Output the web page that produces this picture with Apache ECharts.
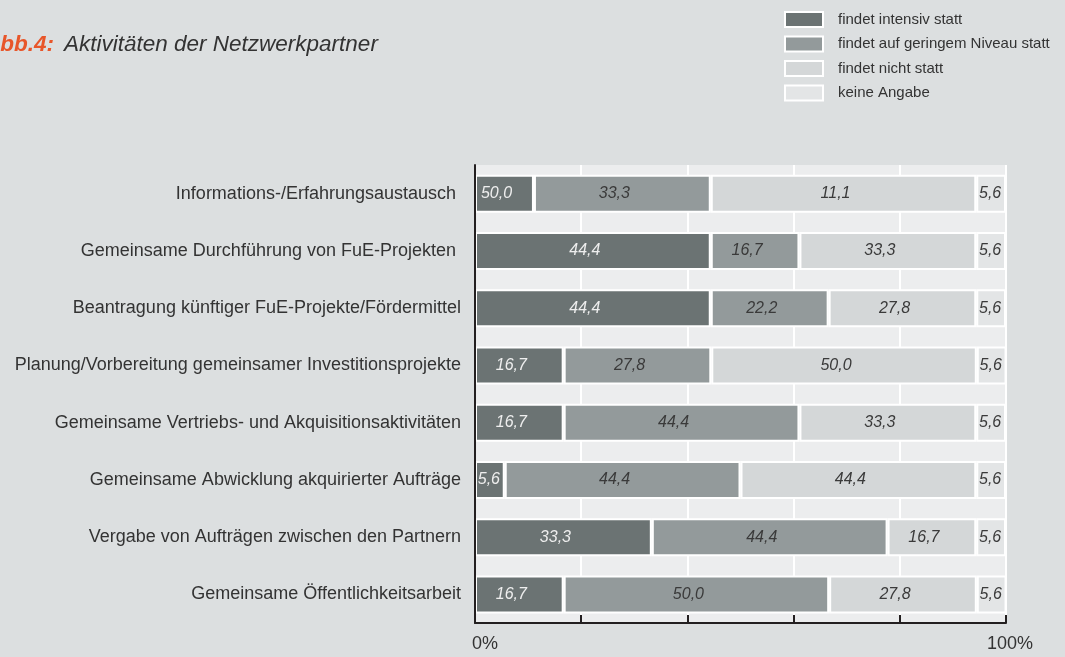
<!DOCTYPE html>
<html>
<head>
<meta charset="utf-8">
<script src="https://cdn.jsdelivr.net/npm/echarts@6/dist/echarts.min.js"></script>
<style>
  html, body { margin: 0; padding: 0; background: #dcdfe0; }
  #chart { width: 1065px; height: 657px; }
</style>
</head>
<body>
<div id="chart"></div>
<script>
// Kategorien (von oben nach unten)
const categories = [
  "Informations-/Erfahrungsaustausch ",
  "Gemeinsame Durchführung von FuE-Projekten ",
  "Beantragung künftiger FuE-Projekte/Fördermittel",
  "Planung/Vorbereitung gemeinsamer Investitionsprojekte",
  "Gemeinsame Vertriebs- und Akquisitionsaktivitäten",
  "Gemeinsame Abwicklung akquirierter Aufträge",
  "Vergabe von Aufträgen zwischen den Partnern",
  "Gemeinsame Öffentlichkeitsarbeit"
];
const seriesNames = [
  "findet intensiv statt",
  "findet auf geringem Niveau statt",
  "findet nicht statt",
  "keine Angabe"
];

// Balkenlängen in % (wie gezeichnet)
const intensiv = [11.1, 44.4, 44.4, 16.7, 16.7, 5.6, 33.3, 16.7];
const gering   = [33.3, 16.7, 22.2, 27.8, 44.4, 44.4, 44.4, 50.0];
const nicht    = [50.0, 33.3, 27.8, 50.0, 33.3, 44.4, 16.7, 27.8];
const keine    = [5.6, 5.6, 5.6, 5.6, 5.6, 5.6, 5.6, 5.6];

// Beschriftungen, wie sie im Original stehen (Zeile 1 vertauscht)
const intensivLabels = ["50,0", "44,4", "44,4", "16,7", "16,7", "5,6", "33,3", "16,7"];
const geringLabels   = ["33,3", "16,7", "22,2", "27,8", "44,4", "44,4", "44,4", "50,0"];
const nichtLabels    = ["11,1", "33,3", "27,8", "50,0", "33,3", "44,4", "16,7", "27,8"];
const keineLabels    = ["5,6", "5,6", "5,6", "5,6", "5,6", "5,6", "5,6", "5,6"];

// x-Achse: nur Anfang und Ende beschriftet
const tickLabels = { 0: "{a|0%}", 100: "{b|100%}" };

const FONT = "Liberation Sans";
const colors = ["#6b7373", "#939a9b", "#d4d7d8", "#e3e5e6"];
const labelColors = ["#eeeeee", "#3a3a3a", "#3a3a3a", "#3a3a3a"];

function makeSeries(name, values, labels, i) {
  return {
    name: name,
    type: "bar",
    stack: "total",
    barWidth: 38,
    // schmale Segmente: Beschriftung mittig, sonst leicht nach links versetzt
    data: values.map(function (v) {
      return { value: v, label: { offset: v < 10 ? [-1, 0] : [-8, 0] } };
    }),
    itemStyle: { color: colors[i], borderColor: "#ffffff", borderWidth: 2 },
    label: {
      show: true,
      position: "inside",
      fontFamily: FONT,
      fontStyle: "italic",
      fontSize: 16,
      color: labelColors[i],
      formatter: function (p) { return labels[p.dataIndex]; }
    },
    emphasis: { disabled: true }
  };
}

var myChart = echarts.init(document.getElementById("chart"));

var option = {
  backgroundColor: "#dcdfe0",
  animation: false,
  title: {
    text: "{o|Abb.4:}  {t|Aktivitäten der Netzwerkpartner}",
    left: -21,
    top: 28,
    textStyle: {
      rich: {
        o: { fontFamily: FONT, fontStyle: "italic", fontWeight: "bold", fontSize: 22.5, color: "#e8562a" },
        t: { fontFamily: FONT, fontStyle: "italic", fontWeight: "normal", fontSize: 22.5, color: "#333333" }
      }
    }
  },
  legend: {
    orient: "vertical",
    left: 779,
    top: 6,
    itemWidth: 38,
    itemHeight: 15,
    itemGap: 7.5,
    icon: "rect",
    textStyle: { fontFamily: FONT, fontSize: 15, lineHeight: 15, color: "#333333", padding: [0, 0, 0, 10] },
    data: seriesNames
  },
  grid: {
    left: 475,
    right: 59,
    top: 165,
    bottom: 34,
    show: true,
    backgroundColor: "#ecedee",
    borderWidth: 0
  },
  xAxis: {
    type: "value",
    min: 0,
    max: 100,
    interval: 20,
    axisLine: { show: true, lineStyle: { color: "#231f20", width: 2 } },
    axisTick: { show: true, inside: true, length: 8, lineStyle: { color: "#231f20", width: 2 } },
    splitLine: { show: true, lineStyle: { color: "#ffffff", width: 2 } },
    axisLabel: {
      margin: 12,
      fontFamily: FONT,
      fontSize: 18,
      color: "#333333",
      formatter: function (v) { return tickLabels[v] || ""; },
      rich: {
        a: { fontFamily: FONT, fontSize: 18, color: "#333333", padding: [0, 0, 0, 20] },
        b: { fontFamily: FONT, fontSize: 18, color: "#333333", padding: [0, 0, 0, 8] }
      }
    }
  },
  yAxis: {
    type: "category",
    inverse: true,
    data: categories,
    z: 10,
    axisLine: { show: true, lineStyle: { color: "#231f20", width: 2 } },
    axisTick: { show: false },
    axisLabel: { margin: 14, fontFamily: FONT, fontSize: 18, color: "#333333" }
  },
  series: [
    makeSeries(seriesNames[0], intensiv, intensivLabels, 0),
    makeSeries(seriesNames[1], gering, geringLabels, 1),
    makeSeries(seriesNames[2], nicht, nichtLabels, 2),
    makeSeries(seriesNames[3], keine, keineLabels, 3)
  ]
};

myChart.setOption(option);
</script>
</body>
</html>
